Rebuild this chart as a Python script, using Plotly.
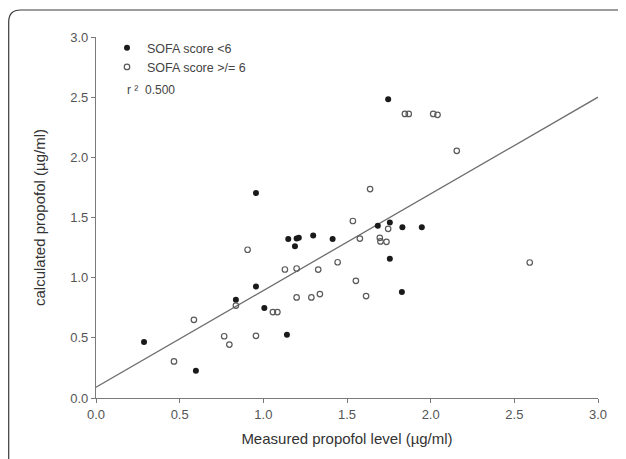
import plotly.graph_objects as go

# SOFA score < 6 (filled)
low_x = [0.287, 0.597, 0.836, 0.956, 0.956, 1.006, 1.141, 1.149, 1.189, 1.199,
         1.212, 1.298, 1.414, 1.684, 1.746, 1.756, 1.756, 1.831, 1.828, 1.947]
low_y = [0.465, 0.227, 0.816, 0.927, 1.703, 0.748, 0.526, 1.321, 1.262, 1.326,
         1.331, 1.350, 1.321, 1.431, 2.483, 1.458, 1.157, 1.420, 0.880, 1.420]

# SOFA score >= 6 (open)
high_x = [0.466, 0.585, 0.766, 0.797, 0.836, 0.906, 0.956, 1.057, 1.084, 1.129,
          1.199, 1.199, 1.287, 1.328, 1.338, 1.444, 1.535, 1.553, 1.577, 1.614,
          1.638, 1.696, 1.700, 1.736, 1.746, 1.846, 1.869, 2.015, 2.041, 2.156, 2.592]
high_y = [0.304, 0.650, 0.513, 0.444, 0.768, 1.232, 0.517, 0.714, 0.714, 1.068,
          1.076, 0.836, 0.836, 1.067, 0.864, 1.128, 1.471, 0.974, 1.325, 0.847,
          1.736, 1.331, 1.301, 1.298, 1.406, 2.361, 2.361, 2.361, 2.353, 2.054, 1.126]

# regression line end points
fit_x = [0.0, 3.0]
fit_y = [0.09, 2.50]

tick_vals = [0, 0.5, 1.0, 1.5, 2.0, 2.5, 3.0]
tick_text = ["0.0", "0.5", "1.0", "1.5", "2.0", "2.5", "3.0"]

fig = go.Figure()
fig.add_trace(go.Scatter(x=fit_x, y=fit_y, mode="lines",
                         line=dict(color="#6e6e6e", width=1.3),
                         showlegend=False, hoverinfo="skip"))
fig.add_trace(go.Scatter(x=low_x, y=low_y, mode="markers", name="SOFA score <6",
                         legendgroup="a",
                         marker=dict(symbol="circle", size=6, color="#1a1a1a")))
fig.add_trace(go.Scatter(x=high_x, y=high_y, mode="markers", name="SOFA score >/= 6",
                         legendgroup="b",
                         marker=dict(symbol="circle-open", size=5.5, color="#5a5a5a",
                                     line=dict(width=1.2))))

# page offset: the browser body adds an 8px margin around the figure
OFF = 8
W, H = 626 - OFF, 459 - OFF
L, R, T, B = 96 - OFF, 28, 37 - OFF, 61
pw, ph = W - L - R, H - T - B

def px(xp):
    return (xp - OFF - L) / pw

def py(yp):
    return (H - B - (yp - OFF)) / ph

x0, x1 = px(8.7), px(640)
y1, y0 = py(10), py(475)
rx, ry = 12 / pw, 12 / ph
frame_path = (f"M {x0},{y0} L {x0},{y1 - ry} Q {x0},{y1} {x0 + rx},{y1} "
              f"L {x1},{y1}")

axis_common = dict(showgrid=False, zeroline=False, showline=True,
                   linecolor="#7a7a7a", linewidth=1.2, ticks="outside",
                   ticklen=4, tickcolor="#7a7a7a", tickwidth=1.2,
                   tickfont=dict(family="Liberation Sans, Arial", size=13, color="#555555"),
                   tickvals=tick_vals, ticktext=tick_text, range=[0, 3])

fig.update_layout(
    width=W, height=H,
    margin=dict(l=L, r=R, t=T, b=B),
    paper_bgcolor="white", plot_bgcolor="white",
    font=dict(family="Liberation Sans, Arial", color="#333333"),
    xaxis=dict(**axis_common,
               title=dict(text="Measured propofol level (µg/ml)",
                          font=dict(size=15, color="#333333"), standoff=12)),
    yaxis=dict(**axis_common,
               title=dict(text="calculated propofol (µg/ml)",
                          font=dict(size=15, color="#333333"), standoff=20)),
    legend=dict(x=px(107), y=py(33), xanchor="left", yanchor="top",
                bgcolor="rgba(0,0,0,0)", font=dict(size=12.5, color="#444444"),
                tracegroupgap=0),
    shapes=[dict(type="path", xref="paper", yref="paper", path=frame_path,
                 line=dict(color="#3a3a3a", width=1.2))],
    annotations=[dict(x=px(125), y=py(90), xref="paper", yref="paper",
                      xanchor="left", yanchor="middle", showarrow=False,
                      text="r ²  0.500", font=dict(size=12, color="#444444"))],
)

fig.write_html("out.html")
